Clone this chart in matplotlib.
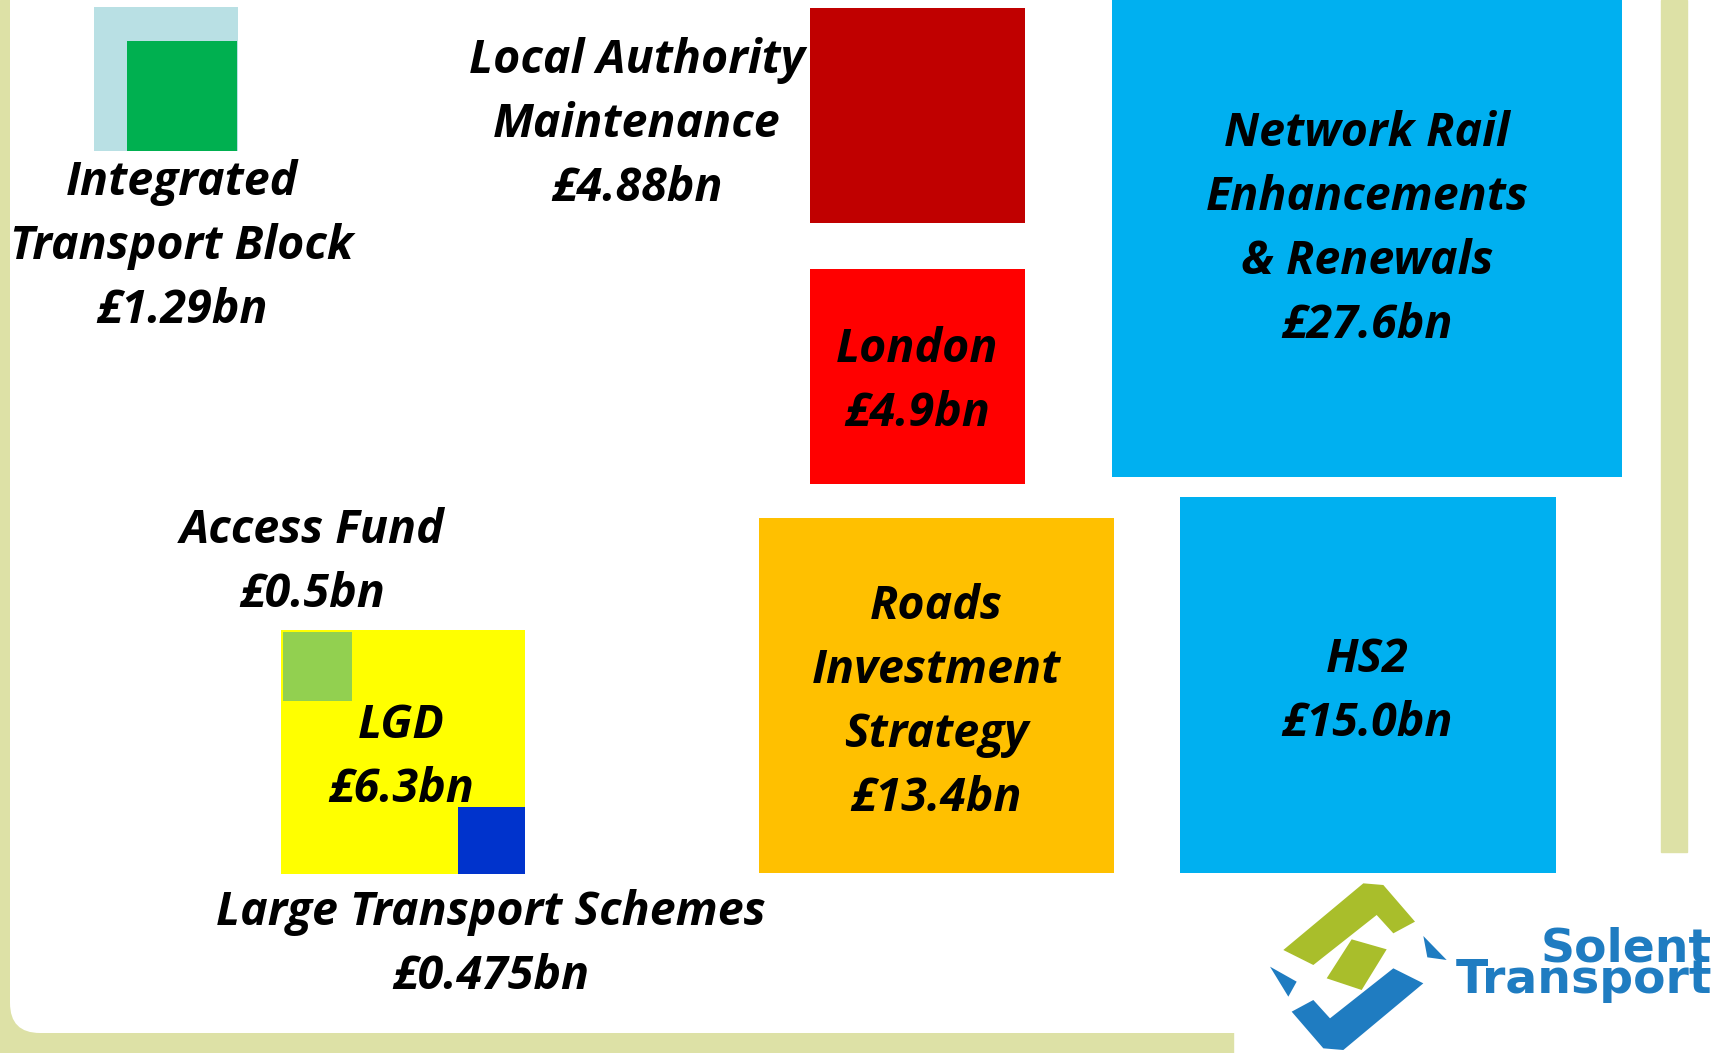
import numpy as np
import matplotlib.pyplot as plt
from matplotlib.patches import Rectangle, FancyBboxPatch, Polygon

# funding pots (square area proportional to value)
labels = ["Integrated\nTransport Block", "Local Authority\nMaintenance", "London",
          "Network Rail\nEnhancements\n& Renewals", "Access Fund", "LGD",
          "Roads\nInvestment\nStrategy", "HS2", "Large Transport Schemes"]
values = [1.29, 4.88, 4.9, 27.6, 0.5, 6.3, 13.4, 15.0, 0.475]
colors = ["#00b050", "#c00000", "#ff0000", "#00b0f0", "#92d050", "#ffff00",
          "#ffc000", "#00b0f0", "#0033cc"]
backdrop_value = 2.2   # unlabelled pale square behind the ITB

# layout in pixels (y down): square corner + anchor, label x centre, first baseline
sq_pos = [(237, 151, "br"), (810, 8, "tl"), (810, 269, "tl"), (1622, 477, "br"),
          (283, 632, "tl"), (281, 874, "bl"), (759, 873, "bl"), (1180, 873, "bl"),
          (525, 874, "br")]
lab_pos = [(182, 195), (637, 73), (917, 362), (1367, 146), (312, 543), (401, 738),
           (936, 619), (1367, 672), (491, 925)]
draw_order = [1, 2, 3, 5, 4, 8, 6, 7, 0]

W, H = 1729, 1053
K = 97.1          # px per sqrt(£bn)
LINE = 64
olive = "#dde1a6"

fig = plt.figure(figsize=(W / 100, H / 100), dpi=100)
ax = fig.add_axes([0, 0, 1, 1])
ax.set_xlim(0, W)
ax.set_ylim(H, 0)
ax.axis("off")

# slide frame
ax.add_patch(Rectangle((0, 0), 1233, H, color=olive, zorder=0))
ax.add_patch(FancyBboxPatch((40, -200), W, 1203, boxstyle="round,pad=30",
                            fc="white", ec="none", zorder=0.5))
ax.add_patch(Rectangle((1661, 0), 26, 852, color=olive, zorder=1))


def square(x, y, anchor, side, color):
    x0 = x - side if anchor[1] == "r" else x
    y0 = y - side if anchor[0] == "b" else y
    ax.add_patch(Rectangle((x0, y0), side, side, color=color, lw=0, zorder=2))


# pale backdrop behind integrated transport block
square(237 + 1, 151, "br", K * np.sqrt(backdrop_value), "#b9e0e4")

for i in draw_order:
    x, y, a = sq_pos[i]
    square(x, y, a, K * np.sqrt(values[i]), colors[i])

font = dict(family=["Open Sans", "DejaVu Sans"], fontsize=33.5, fontweight="bold",
            fontstyle="italic", color="black", ha="center", va="baseline", zorder=5)
for lab, v, (x, y) in zip(labels, values, lab_pos):
    lines = lab.split("\n") + [f"£{v}bn"]
    for j, ln in enumerate(lines):
        ax.text(x, y + j * LINE, ln, **font)

# Solent Transport logo (rough)
def z(pts):
    return [(1230 + px / 3, 850 + py / 3) for px, py in pts]

lg, lb = "#a9be2b", "#1f7cc1"
ax.add_patch(Polygon(z([(160, 300), (400, 100), (460, 105), (555, 215), (490, 250),
                        (440, 195), (250, 345)]), fc=lg, ec="none", zorder=3))
ax.add_patch(Polygon(z([(290, 385), (365, 268), (470, 298), (395, 420)]),
                     fc=lg, ec="none", zorder=3))
ax.add_patch(Polygon(z([(580, 400), (340, 600), (280, 595), (185, 485), (250, 450),
                        (300, 505), (490, 355)]), fc=lb, ec="none", zorder=3))
ax.add_patch(Polygon(z([(120, 350), (200, 395), (175, 440)]), fc=lb, ec="none", zorder=3))
ax.add_patch(Polygon(z([(580, 258), (650, 330), (592, 322)]), fc=lb, ec="none", zorder=3))
ax.text(1712, 965, "Solent\nTransport", ha="right", ma="right", va="center",
        fontsize=34, fontweight="bold", linespacing=0.62, color=lb,
        family="DejaVu Sans", zorder=5)

fig.savefig("out.png", dpi=100)
